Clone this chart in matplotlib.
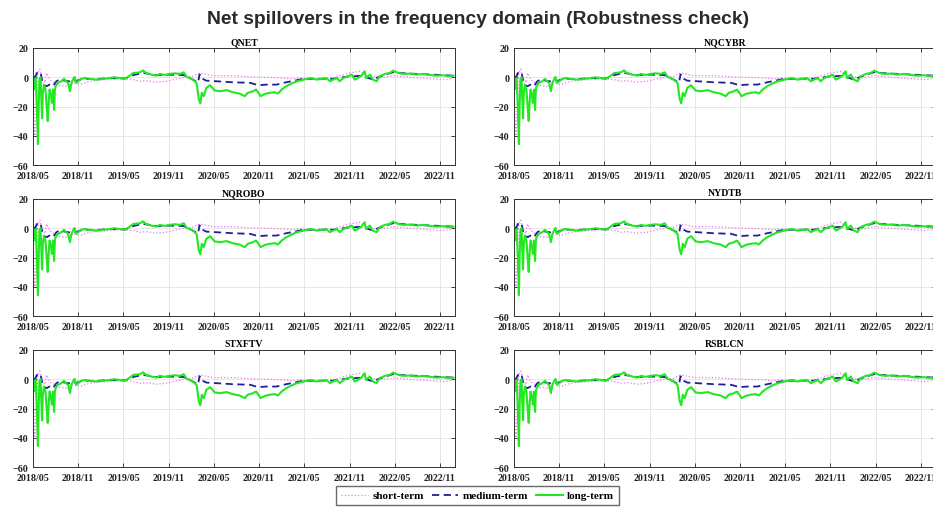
import matplotlib
matplotlib.use("Agg")
import matplotlib.pyplot as plt
from matplotlib.lines import Line2D

# index names, one panel each
panels = ["QNET", "NQCYBR", "NQROBO", "NYDTB", "STXFTV", "RSBLCN"]

# x = months since 2018/05
tick_pos = [0, 6, 12, 18, 24, 30, 36, 42, 48, 54]
tick_lab = ["2018/05", "2018/11", "2019/05", "2019/11", "2020/05",
            "2020/11", "2021/05", "2021/11", "2022/05", "2022/11"]

short_m = [0.0, 0.15, 0.25, 0.45, 0.65, 0.9, 1.1, 1.55, 1.8, 2.2, 2.9, 3.5,
           4.4, 5.3, 6.2, 7.1, 8.4, 10.2, 11.5, 12.4, 13.3, 14.2, 15.0, 16.4,
           17.7, 19.0, 20.4, 21.2, 22.1, 22.6, 23.9, 26.5, 29.2, 31.0, 33.2,
           34.5, 35.4, 37.6, 39.8, 42.0, 43.4, 44.2, 46.0, 47.8, 49.6, 51.3,
           53.1, 54.4, 55.8]
short_v = [0.0, -30.0, -40.0, -19.4, 2.9, 5.6, 0.7, -3.8, 2.9, -1.6, -3.8,
           -5.6, -6.1, -3.8, -5.0, -3.4, -2.0, -1.6, -1.1, -1.1, -1.6, -2.7,
           -2.3, -3.4, -2.7, -1.1, 0.2, 0.7, 2.9, 2.5, 1.1, 1.1, 0.2, 0.0,
           -0.5, -1.1, -0.5, -1.1, -0.5, 2.9, 4.1, 1.1, -0.5, 1.1, 0.2, -0.5,
           -1.1, -1.6, -0.7]

medium_m = [0.0, 0.35, 0.5, 0.8, 1.0, 1.1, 1.3, 1.8, 2.2, 2.65, 3.1, 3.5,
            4.4, 5.1, 5.75, 6.6, 8.4, 10.2, 12.2, 13.3, 14.6, 16.4, 18.1,
            20.0, 21.2, 21.9, 22.1, 22.3, 23.0, 24.3, 26.5, 28.8, 29.9, 31.0,
            32.3, 33.6, 35.0, 35.8, 37.6, 39.8, 41.8, 43.6, 45.1, 46.0, 47.8,
            48.7, 50.9, 53.1, 55.8]
medium_v = [0.0, 0.7, 2.9, 2.9, 3.4, 0.7, -5.0, -6.1, -5.0, -6.1, -2.7, -1.6,
            -2.5, -3.0, -2.5, -1.0, -1.2, -0.5, -0.8, 1.5, 3.0, 1.5, 1.8, 1.5,
            -1.6, -3.5, 2.0, -0.5, -2.3, -2.7, -3.4, -3.8, -5.4, -5.0, -5.0,
            -3.4, -2.0, -1.1, -1.0, -1.0, 0.5, 1.0, -1.5, 0.5, 3.5, 2.9, 2.3,
            1.8, 1.1]

long_m = [0.0, 0.1, 0.2, 0.35, 0.5, 0.65, 0.75, 0.85, 1.0, 1.1, 1.2, 1.3,
          1.45, 1.65, 1.8, 1.95, 2.1, 2.2, 2.4, 2.5, 2.65, 2.8, 2.9, 3.0, 3.3,
          3.75, 4.1, 4.4, 4.65, 4.9, 5.1, 5.3, 5.5, 5.75, 6.0, 6.4, 6.9, 7.5,
          8.4, 9.3, 10.2, 10.8, 11.5, 12.2, 12.6, 13.3, 14.2, 14.6, 15.0,
          15.7, 16.4, 16.8, 17.5, 18.1, 18.8, 19.5, 20.0, 20.4, 20.8, 21.2,
          21.7, 22.0, 22.2, 22.4, 22.65, 23.0, 23.5, 24.1, 24.8, 25.7, 26.5,
          27.4, 28.1, 28.5, 29.2, 29.6, 29.9, 30.2, 30.8, 31.4, 32.1, 32.5,
          33.0, 33.6, 34.3, 35.0, 35.6, 36.3, 36.9, 37.6, 38.3, 38.9, 39.4,
          39.8, 40.3, 40.7, 41.2, 41.8, 42.3, 42.7, 43.1, 43.6, 44.0, 44.2,
          44.7, 45.1, 45.6, 46.0, 46.7, 47.3, 47.8, 48.5, 49.1, 50.0, 50.9,
          51.8, 52.7, 53.5, 54.4, 55.1, 55.8]
long_v = [0.0, -8.4, -1.6, -0.5, -19.4, -45.6, -19.4, -1.6, 0.0, -15.1,
          -28.0, -10.6, -5.0, -8.4, -19.4, -29.8, -15.1, -8.4, -12.9, -17.4,
          -8.4, -22.3, -8.4, -6.1, -3.8, -2.7, -1.1, -2.7, -3.8, -9.5, -3.8,
          -1.6, 0.2, -3.8, -2.7, -1.1, -0.5, -1.1, -1.6, -1.1, -0.5, 0.0,
          -0.5, -1.1, 0.2, 2.9, 3.4, 4.7, 2.9, 1.8, 1.1, 2.3, 1.6, 2.3, 2.7,
          2.3, 3.4, 0.2, -0.5, -1.6, -3.8, -15.1, -17.8, -10.6, -12.9, -7.2,
          -5.4, -9.0, -9.5, -8.8, -10.2, -11.1, -12.9, -10.6, -9.5, -8.4,
          -10.6, -12.9, -11.3, -10.6, -10.2, -11.1, -8.4, -6.1, -4.3, -2.7,
          -2.0, -1.1, -0.5, -1.6, -1.1, -0.5, -2.7, -1.6, -0.5, -2.7, -0.5,
          0.7, 1.8, -1.6, -0.5, 1.1, 4.1, -0.5, 1.8, -1.6, -2.7, 0.7, 2.3,
          2.9, 4.5, 2.9, 2.3, 2.5, 1.8, 2.3, 1.6, 1.1, 1.4, 0.7, 1.1]

SERIF = ["Liberation Serif", "DejaVu Serif"]
C_SHORT, C_MED, C_LONG = "#ee77ee", "#1f1f9a", "#22e822"

plt.rcParams.update({"font.family": SERIF, "font.weight": "bold",
                     "xtick.direction": "in", "ytick.direction": "in",
                     "xtick.top": True, "ytick.right": True})

fig = plt.figure(figsize=(9.33, 5.10), dpi=100)
lefts = [0.0354, 0.5509]
bottoms = [0.674, 0.378, 0.082]
W, H = 0.4523, 0.23

for k, name in enumerate(panels):
    r, c = divmod(k, 2)
    ax = fig.add_axes([lefts[c], bottoms[r], W, H])
    ax.plot(short_m, short_v, color=C_SHORT, ls=":", lw=0.9)
    ax.plot(medium_m, medium_v, color=C_MED, ls="--", lw=1.3, dashes=(4, 2.5))
    ax.plot(long_m, long_v, color=C_LONG, ls="-", lw=1.5)
    ax.set_xlim(0, 56)
    ax.set_ylim(-60, 20)
    ax.set_xticks(tick_pos)
    ax.set_xticklabels(tick_lab)
    ax.set_yticks([-60, -40, -20, 0, 20])
    ax.tick_params(labelsize=7.2, length=3, width=0.6, colors="#222222")
    ax.tick_params(axis="x", pad=4)
    ax.grid(True, color="#e2e2e2", lw=0.6)
    for sp in ax.spines.values():
        sp.set_linewidth(0.7)
        sp.set_color("#333333")
    ax.set_title(name, fontsize=7, fontweight="bold", pad=3)

fig.suptitle("Net spillovers in the frequency domain (Robustness check)",
             x=0.512, y=0.978, fontsize=13.9, fontweight="bold", color="#2a2a2a",
             family=["Liberation Sans", "DejaVu Sans"])

handles = [Line2D([], [], color=C_SHORT, ls=":", lw=0.9),
           Line2D([], [], color=C_MED, ls="--", lw=1.3, dashes=(4, 2.5)),
           Line2D([], [], color=C_LONG, ls="-", lw=1.5)]
fig.legend(handles, ["short-term", "medium-term", "long-term"],
           loc="lower center", bbox_to_anchor=(0.512, -0.004), ncol=3,
           fancybox=False, frameon=True, edgecolor="#444444",
           prop={"family": SERIF, "weight": "bold", "size": 8},
           handlelength=2.4, handletextpad=0.4, columnspacing=0.7,
           borderpad=0.45, labelspacing=0.2)

fig.savefig("out.png", dpi=100)
